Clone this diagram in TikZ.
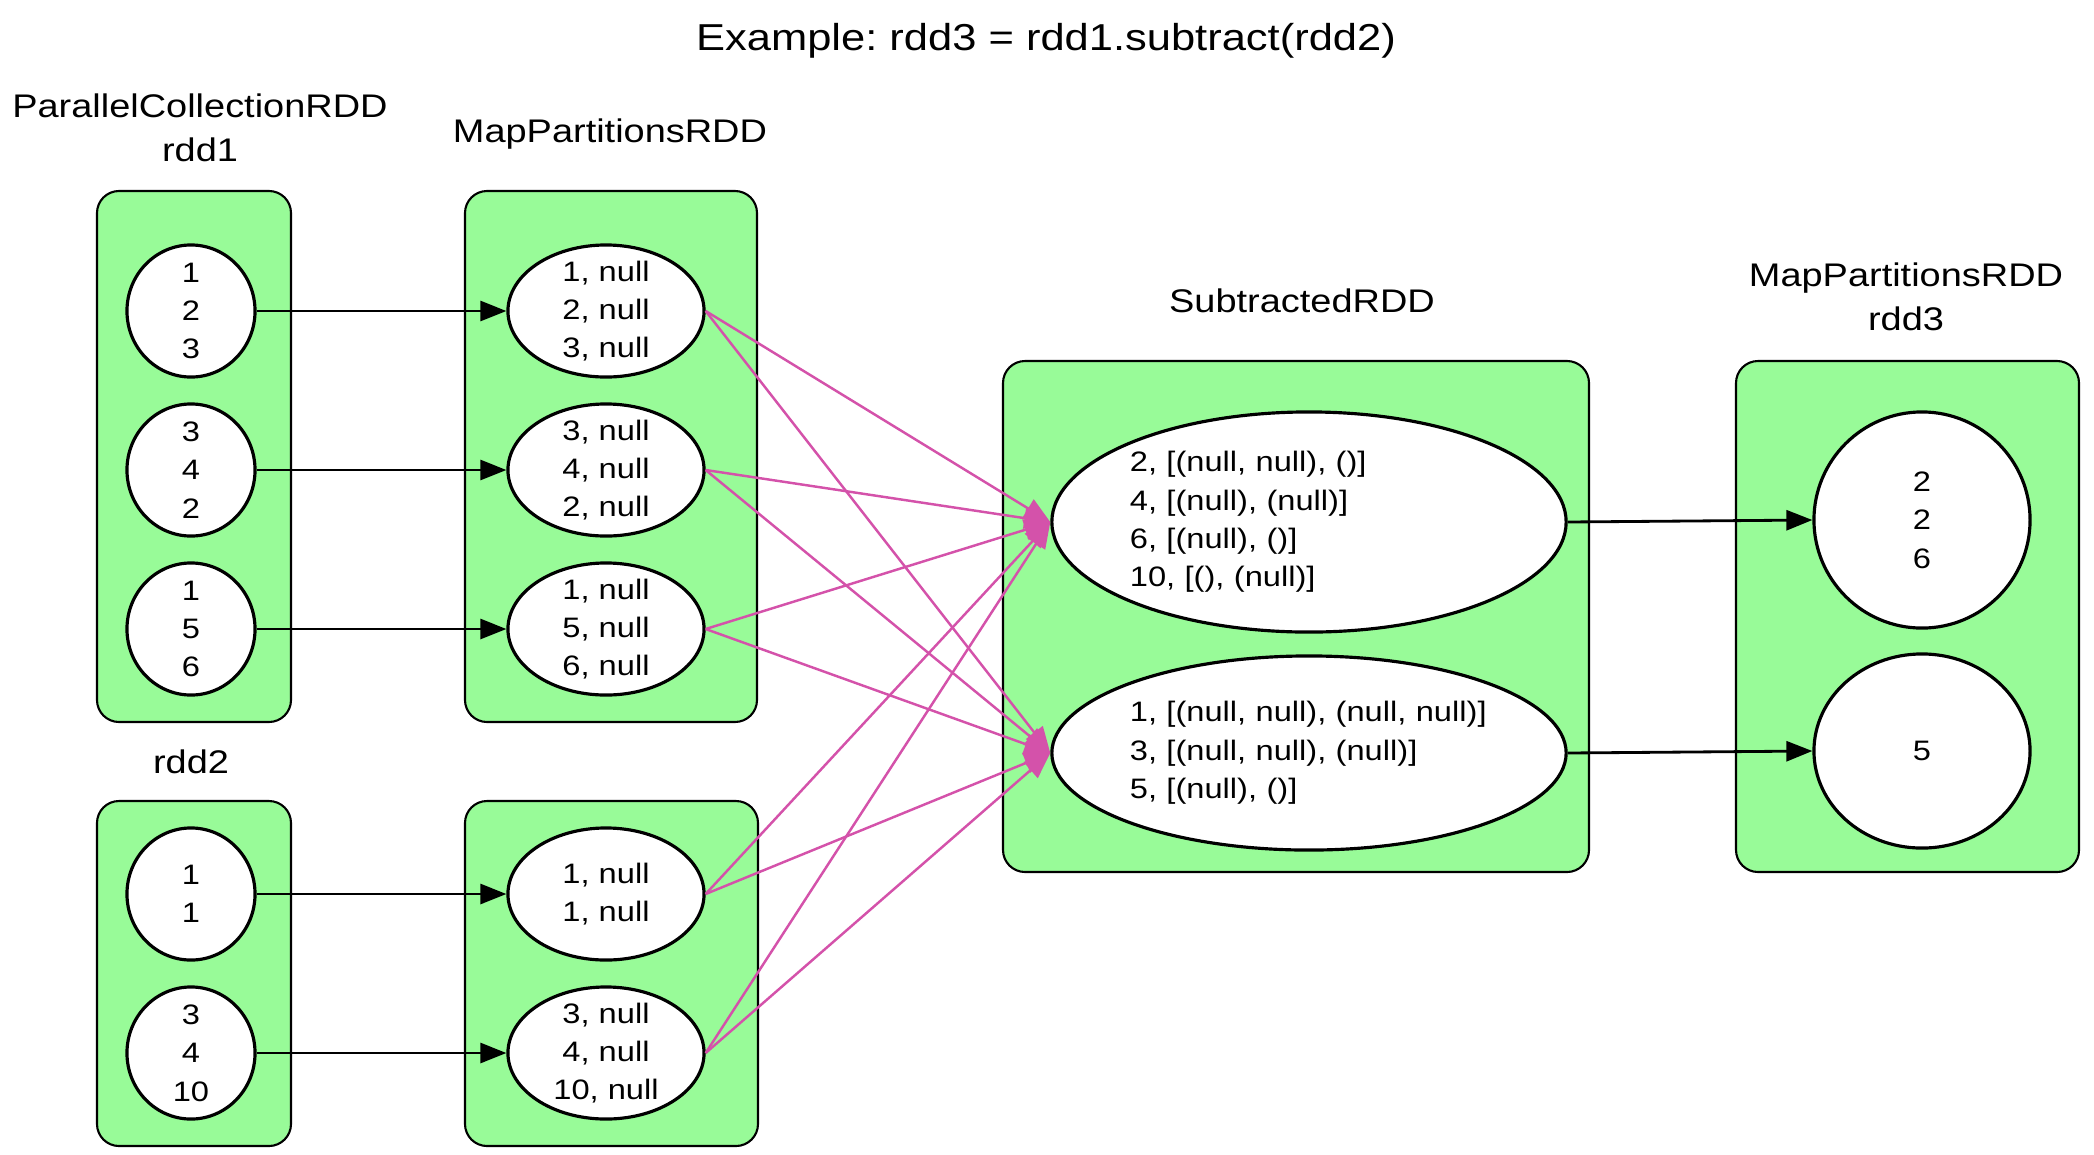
\documentclass[tikz,border=0pt]{standalone}
\usepackage{fontspec}
\setmainfont{Liberation Sans}[FakeStretch=1.16]
\usetikzlibrary{shapes.geometric, arrows.meta}
\definecolor{boxgreen}{HTML}{98FB98}
\definecolor{edgepink}{RGB}{212,82,170}
\frenchspacing

\begin{document}
\begin{tikzpicture}[x=0.01cm, y=-0.01cm,
    rddbox/.style={draw, line width=0.6pt, fill=boxgreen, rounded corners=0.22cm},
    part/.style={draw, ellipse, fill=white, line width=0.9pt, inner xsep=0pt, inner ysep=-8pt,
        align=center, font=\fontsize{8}{10.9}\selectfont},
    narrowpart/.style={part, minimum width=1.28cm, minimum height=1.32cm},
    widepart/.style={part, minimum width=1.96cm, minimum height=1.32cm},
    lbl/.style={inner sep=0pt, align=center, font=\fontsize{9.3}{12.5}\selectfont},
    dep/.style={-{Triangle[length=0.26cm, width=0.2cm]}, line width=0.8pt},
    shuffle/.style={-{Triangle[length=0.26cm, width=0.21cm]}, edgepink, line width=0.7pt}]
    \useasboundingbox (0,0) rectangle (2094,1154);

    % Titolo
    \node[lbl, font=\fontsize{10.66}{13}\selectfont, anchor=base] (title) at (1046,50)
        {Example: rdd3 = rdd1.subtract(rdd2)};

    % RDD boxes
    \draw[rddbox] (97,191) rectangle (291,722);
    \draw[rddbox] (465,191) rectangle (757,722);
    \draw[rddbox] (97,801) rectangle (291,1146);
    \draw[rddbox] (465,801) rectangle (758,1146);
    \draw[rddbox] (1003,361) rectangle (1589,872);
    \draw[rddbox] (1736,361) rectangle (2079,872);

    % Etichette
    \node[lbl] (lrdd1) at (200,128) {ParallelCollectionRDD\\rdd1};
    \node[lbl, anchor=base] (lmap1) at (610,142) {MapPartitionsRDD};
    \node[lbl, anchor=base] (lrdd2) at (191,773) {rdd2};
    \node[lbl, anchor=base] (lsub) at (1302,312) {SubtractedRDD};
    \node[lbl] (lrdd3) at (1906,297) {MapPartitionsRDD\\rdd3};

    % rdd1 e rdd2
    \node[narrowpart] (r1a) at (191,311) {1\\2\\3};
    \node[narrowpart] (r1b) at (191,470) {3\\4\\2};
    \node[narrowpart] (r1c) at (191,629) {1\\5\\6};
    \node[narrowpart] (r2a) at (191,894) {1\\1};
    \node[narrowpart] (r2b) at (191,1053) {3\\4\\10};

    % MapPartitionsRDD
    \node[widepart] (m1a) at (606,311) {1, null\\2, null\\3, null};
    \node[widepart] (m1b) at (606,470) {3, null\\4, null\\2, null};
    \node[widepart] (m1c) at (606,629) {1, null\\5, null\\6, null};
    \node[widepart] (m2a) at (606,894) {1, null\\1, null};
    \node[widepart] (m2b) at (606,1053) {3, null\\4, null\\10, null};

    % SubtractedRDD
    \node[part, minimum width=5.14cm, minimum height=2.2cm, text width=3.58cm, align=left] (s1) at (1309,522)
        {2, [(null, null), ()]\\4, [(null), (null)]\\6, [(null), ()]\\10, [(), (null)]};
    \node[part, minimum width=5.14cm, minimum height=1.94cm, text width=3.58cm, align=left] (s2) at (1309,753)
        {1, [(null, null), (null, null)]\\3, [(null, null), (null)]\\5, [(null), ()]};

    % rdd3
    \node[part, minimum width=2.16cm, minimum height=2.16cm] (r3a) at (1922,520) {2\\2\\6};
    \node[part, minimum width=2.16cm, minimum height=1.94cm] (r3b) at (1922,751) {5};

    % Dipendenze strette
    \draw[dep] (r1a.east) -- (m1a.west);
    \draw[dep] (r1b.east) -- (m1b.west);
    \draw[dep] (r1c.east) -- (m1c.west);
    \draw[dep] (r2a.east) -- (m2a.west);
    \draw[dep] (r2b.east) -- (m2b.west);
    \draw[dep] (s1.east) -- (r3a.west);
    \draw[dep] (s2.east) -- (r3b.west);

    % Shuffle
    \draw[shuffle] (m1a.east) -- (s1.west);
    \draw[shuffle] (m1a.east) -- (s2.west);
    \draw[shuffle] (m1b.east) -- (s1.west);
    \draw[shuffle] (m1b.east) -- (s2.west);
    \draw[shuffle] (m1c.east) -- (s1.west);
    \draw[shuffle] (m1c.east) -- (s2.west);
    \draw[shuffle] (m2a.east) -- (s1.west);
    \draw[shuffle] (m2a.east) -- (s2.west);
    \draw[shuffle] (m2b.east) -- (s1.west);
    \draw[shuffle] (m2b.east) -- (s2.west);
\end{tikzpicture}
\end{document}
